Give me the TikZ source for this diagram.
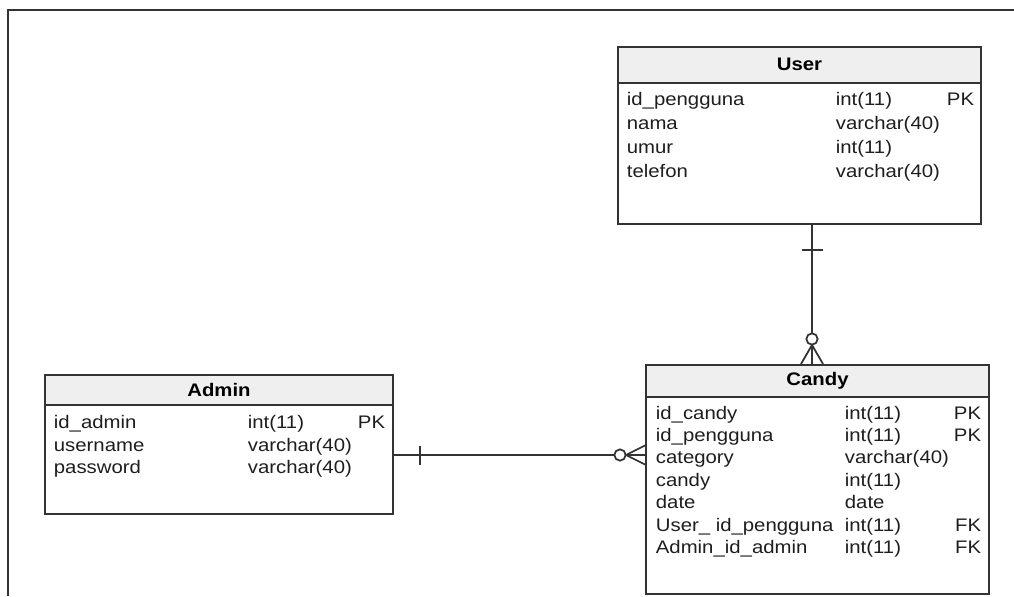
\documentclass[tikz,border=0pt]{standalone}
\usepackage{fontspec}
\setmainfont[FakeStretch=1.12]{Liberation Sans}
\usetikzlibrary{calc}
\definecolor{erline}{HTML}{333333}
\definecolor{headgray}{HTML}{EFEFEF}
\definecolor{ertext}{HTML}{1E1E1E}
\newcommand{\pxl}{0.567pt}
\begin{document}
\begin{tikzpicture}[x=0.567pt,y=-0.567pt,line width=1pt,
    every node/.style={font=\fontsize{10.3}{12}\selectfont},
    entity/.style={draw=erline,line width=1.1pt,anchor=north west,inner sep=0pt},
    head/.style={draw=erline,fill=headgray,line width=1.1pt,anchor=north west,inner sep=0pt,
      font=\fontsize{10.3}{12}\selectfont\bfseries},
    fld/.style={anchor=base west,inner sep=0pt,text=ertext},
    key/.style={anchor=base east,inner sep=0pt,text=ertext}]
    \useasboundingbox (0,0) rectangle (1014,596);
    % frame
    \draw[erline,line width=1.2pt] (8,596) -- (8,10) -- (1014,10);

    % User
    \node[entity,minimum width=363*\pxl,minimum height=177*\pxl] (user) at (617,46) {};
    \node[head,minimum width=363*\pxl,minimum height=35.7*\pxl] (userh) at (617,46) {User};
    \node[fld] (u1n) at (626,105) {id\_pengguna};
    \node[fld] (u1t) at (835,105) {int(11)};
    \node[key] (u1k) at (975,105) {PK};
    \node[fld] (u2n) at (626,129) {nama};
    \node[fld] (u2t) at (835,129) {varchar(40)};
    \node[fld] (u3n) at (626,153) {umur};
    \node[fld] (u3t) at (835,153) {int(11)};
    \node[fld] (u4n) at (626,177) {telefon};
    \node[fld] (u4t) at (835,177) {varchar(40)};

    % Admin
    \node[entity,minimum width=348*\pxl,minimum height=139*\pxl] (admin) at (44,374) {};
    \node[head,minimum width=348*\pxl,minimum height=30*\pxl] (adminh) at (44,374) {Admin};
    \node[fld] (a1n) at (53,428.5) {id\_admin};
    \node[fld] (a1t) at (247,428.5) {int(11)};
    \node[key] (a1k) at (386,428.5) {PK};
    \node[fld] (a2n) at (53,451) {username};
    \node[fld] (a2t) at (247,451) {varchar(40)};
    \node[fld] (a3n) at (53,473.5) {password};
    \node[fld] (a3t) at (247,473.5) {varchar(40)};

    % Candy
    \node[entity,minimum width=343*\pxl,minimum height=229*\pxl] (candy) at (645,364) {};
    \node[head,minimum width=343*\pxl,minimum height=32*\pxl] (candyh) at (645,364) {Candy};
    \node[fld] (c1n) at (655,419) {id\_candy};
    \node[fld] (c1t) at (844,419) {int(11)};
    \node[key] (c1k) at (982,419) {PK};
    \node[fld] (c2n) at (655,441.4) {id\_pengguna};
    \node[fld] (c2t) at (844,441.4) {int(11)};
    \node[key] (c2k) at (982,441.4) {PK};
    \node[fld] (c3n) at (655,463.8) {category};
    \node[fld] (c3t) at (844,463.8) {varchar(40)};
    \node[fld] (c4n) at (655,486.2) {candy};
    \node[fld] (c4t) at (844,486.2) {int(11)};
    \node[fld] (c5n) at (655,508.6) {date};
    \node[fld] (c5t) at (844,508.6) {date};
    \node[fld] (c6n) at (655,531) {User\_ id\_pengguna};
    \node[fld] (c6t) at (844,531) {int(11)};
    \node[key] (c6k) at (982,531) {FK};
    \node[fld] (c7n) at (655,553.4) {Admin\_id\_admin};
    \node[fld] (c7t) at (844,553.4) {int(11)};
    \node[key] (c7k) at (982,553.4) {FK};

    % User -- Candy
    \coordinate (vx) at (812,0);
    \draw[erline] (user.south -| vx) -- (candy.north -| vx);
    \draw[erline] ($(user.south -| vx)+(-10.5,25)$) -- ++(21,0);
    \draw[erline] ($(candy.north -| vx)+(0,-19)$) -- ($(candy.north -| vx)+(-11,0)$);
    \draw[erline] ($(candy.north -| vx)+(0,-19)$) -- ($(candy.north -| vx)+(11,0)$);
    \draw[erline,fill=white] ($(candy.north -| vx)+(0,-25)$) circle (3.2pt);

    % Admin -- Candy
    \coordinate (hy) at (0,455);
    \draw[erline] (admin.east |- hy) -- (candy.west |- hy);
    \draw[erline] ($(admin.east |- hy)+(26,-9.5)$) -- ++(0,19);
    \draw[erline] ($(candy.west |- hy)+(-19,0)$) -- ($(candy.west |- hy)+(0,-9.5)$);
    \draw[erline] ($(candy.west |- hy)+(-19,0)$) -- ($(candy.west |- hy)+(0,9.5)$);
    \draw[erline,fill=white] ($(candy.west |- hy)+(-25,0)$) circle (3.2pt);
\end{tikzpicture}
\end{document}
